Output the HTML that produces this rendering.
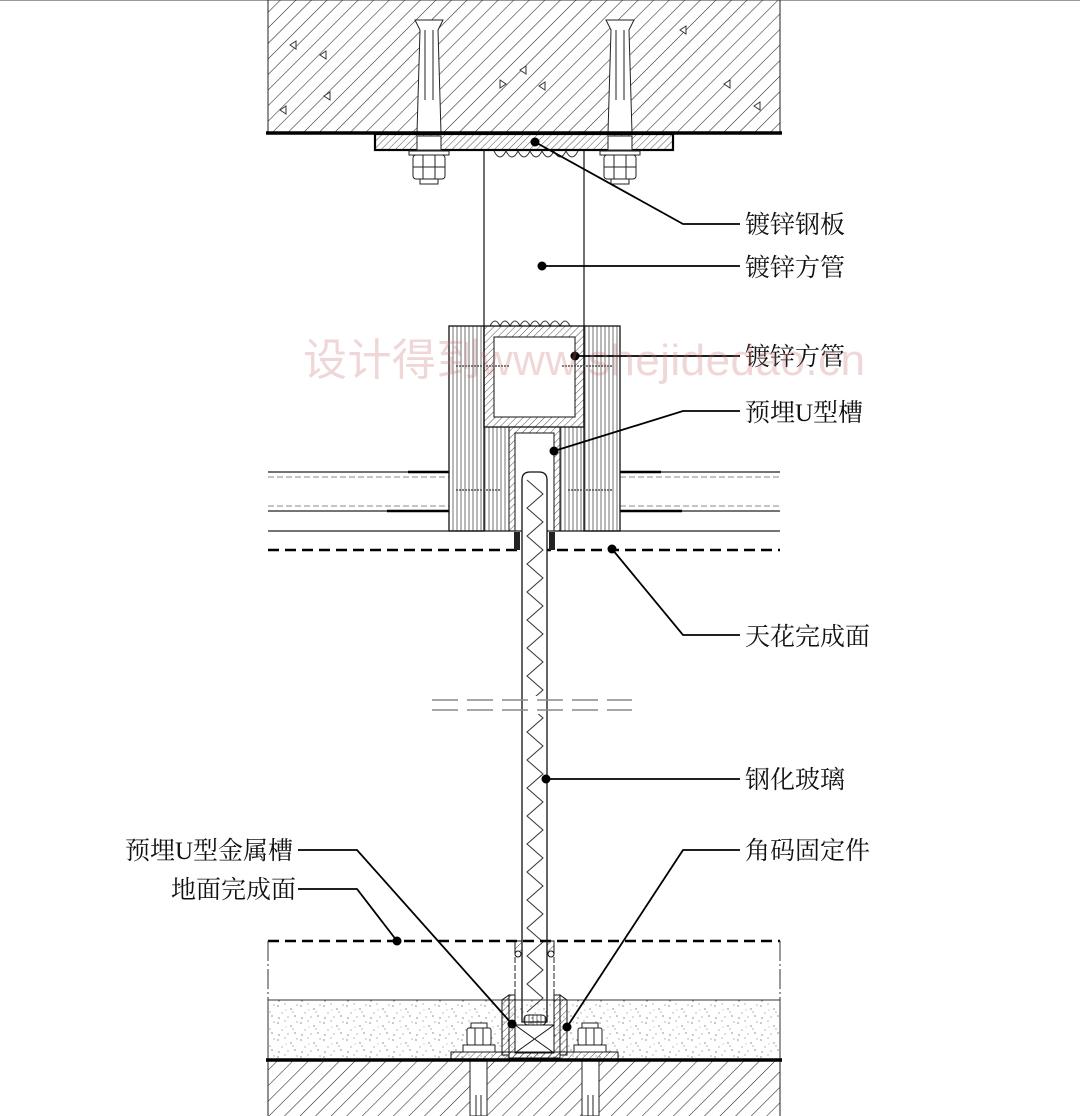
<!DOCTYPE html>
<html><head><meta charset="utf-8"><style>
html,body{margin:0;padding:0;background:#fff;}
svg{display:block;}
text{font-family:"Liberation Serif","Noto Serif CJK SC","Noto Sans CJK SC",serif;font-size:25px;fill:#111;}
</style></head><body>
<svg width="1080" height="1116" viewBox="0 0 1080 1116" xmlns="http://www.w3.org/2000/svg">
<defs>
<pattern id="conc" width="11" height="11" patternUnits="userSpaceOnUse" patternTransform="rotate(45)">
<line x1="0" y1="0" x2="0" y2="11" stroke="#222" stroke-width="1.1"/>
</pattern>
<pattern id="steel" width="5" height="5" patternUnits="userSpaceOnUse" patternTransform="rotate(45)">
<line x1="0" y1="0" x2="0" y2="5" stroke="#222" stroke-width="0.8"/>
</pattern>
<pattern id="wood" width="4" height="10" patternUnits="userSpaceOnUse">
<line x1="1" y1="0" x2="1" y2="10" stroke="#333" stroke-width="0.7"/>
</pattern>
<pattern id="sand" width="23" height="17" patternUnits="userSpaceOnUse">
<circle cx="2" cy="3" r="0.6" fill="#444"/><circle cx="9" cy="1" r="0.5" fill="#444"/><circle cx="15" cy="6" r="0.6" fill="#444"/><circle cx="6" cy="10" r="0.5" fill="#444"/><circle cx="19" cy="13" r="0.6" fill="#444"/><circle cx="12" cy="14" r="0.5" fill="#444"/><circle cx="21" cy="2" r="0.5" fill="#444"/><circle cx="3" cy="15" r="0.6" fill="#444"/><circle cx="17" cy="9" r="0.5" fill="#444"/><circle cx="10" cy="7" r="0.4" fill="#444"/>
</pattern>
</defs>
<line x1="0" y1="0.5" x2="1080" y2="0.5" stroke="#999" stroke-width="1"/>
<rect x="268" y="0" width="512" height="133" fill="url(#conc)"/>
<line x1="268" y1="0" x2="268" y2="133" stroke="#222"/>
<line x1="780" y1="0" x2="780" y2="133" stroke="#222"/>
<g fill="#fff" stroke="#333" stroke-width="1">
<path d="M290 45 l6 -4 l0 8z M320 55 l6 -4 l0 8z M330 100 l-6 -4 l6 -4z M520 70 l6 -4 l0 8z M545 90 l-6 -4 l6 -4z M500 80 l6 4 l-6 4z M680 30 l6 -4 l0 8z M730 80 l-6 4 l6 4z M760 110 l-6 -4 l6 -4z M280 110 l6 -4 l0 8z"/>
</g>
<g fill="#fff" stroke="#222" stroke-width="1">
<path d="M415 20 L443 20 L438 30 L441 133 L417 133 L420 30 Z"/>
<line x1="425" y1="30" x2="425" y2="100"/><line x1="433" y1="30" x2="433" y2="100"/>
<path d="M606 20 L634 20 L629 30 L632 133 L608 133 L611 30 Z"/>
<line x1="616" y1="30" x2="616" y2="100"/><line x1="624" y1="30" x2="624" y2="100"/>
</g>
<line x1="266" y1="133" x2="782" y2="133" stroke="#000" stroke-width="3.5"/>
<rect x="375" y="134" width="298" height="16" fill="url(#steel)" stroke="#000" stroke-width="2.2"/>
<rect x="417" y="136" width="24" height="14" fill="#fff" stroke="#222"/>
<rect x="608" y="136" width="24" height="14" fill="#fff" stroke="#222"/>
<g fill="#fff" stroke="#222" stroke-width="1">
<rect x="409" y="151" width="40" height="4"/>
<rect x="413" y="155" width="32" height="24" rx="3"/><line x1="413" y1="167" x2="445" y2="167"/><line x1="423" y1="155" x2="423" y2="179"/><line x1="435" y1="155" x2="435" y2="179"/>
<rect x="420" y="179" width="18" height="5"/>
<rect x="600" y="151" width="40" height="4"/>
<rect x="604" y="155" width="32" height="24" rx="3"/><line x1="604" y1="167" x2="636" y2="167"/><line x1="614" y1="155" x2="614" y2="179"/><line x1="626" y1="155" x2="626" y2="179"/>
<rect x="611" y="179" width="18" height="5"/>
</g>
<path d="M494 151 q6 12 12 0 q6 12 12 0 q6 12 12 0 q6 12 12 0 q6 12 12 0 q6 12 12 0 q6 12 12 0" fill="none" stroke="#333"/>
<line x1="484" y1="150" x2="484" y2="326" stroke="#111" stroke-width="1.2"/>
<line x1="584" y1="150" x2="584" y2="326" stroke="#111" stroke-width="1.2"/>
<path d="M490 326 q5 -10 10 0 q5 -10 10 0 q5 -10 10 0 q5 -10 10 0 q5 -10 10 0 q5 -10 10 0 q5 -10 10 0 q5 -10 10 0" fill="none" stroke="#333"/>
<g stroke="#222" stroke-width="1.2">
<line x1="268" y1="472" x2="449" y2="472"/><line x1="620" y1="472" x2="780" y2="472"/>
<line x1="268" y1="511" x2="449" y2="511"/><line x1="620" y1="511" x2="780" y2="511"/>
<line x1="268" y1="531" x2="780" y2="531"/>
</g>
<g stroke="#000" stroke-width="2.5">
<line x1="408" y1="472" x2="449" y2="472"/><line x1="620" y1="472" x2="661" y2="472"/>
<line x1="387" y1="511" x2="449" y2="511"/><line x1="620" y1="511" x2="682" y2="511"/>
</g>
<g stroke="#888" stroke-width="1" stroke-dasharray="6,3">
<line x1="268" y1="477" x2="449" y2="477"/><line x1="620" y1="477" x2="780" y2="477"/>
<line x1="268" y1="506" x2="449" y2="506"/><line x1="620" y1="506" x2="780" y2="506"/>
</g>
<line x1="268" y1="550" x2="780" y2="550" stroke="#000" stroke-width="2.5" stroke-dasharray="11,6"/>
<rect x="449" y="326" width="35" height="205" fill="url(#wood)" stroke="#111" stroke-width="1.3"/>
<rect x="584" y="326" width="36" height="205" fill="url(#wood)" stroke="#111" stroke-width="1.3"/>
<rect x="484" y="427" width="25" height="104" fill="url(#wood)" stroke="#111" stroke-width="1"/>
<rect x="560" y="427" width="24" height="104" fill="url(#wood)" stroke="#111" stroke-width="1"/>
<rect x="484" y="326" width="100" height="101" fill="url(#steel)" stroke="#111" stroke-width="1.3"/>
<rect x="494" y="337" width="81" height="80" fill="#fff" stroke="#111" stroke-width="1"/>
<path d="M509 427 L560 427 L560 531 L554 531 L554 433 L515 433 L515 531 L509 531 Z" fill="url(#steel)" stroke="#111"/>
<g stroke="#555" stroke-width="1.5" stroke-dasharray="2,1">
<line x1="456" y1="366" x2="510" y2="366"/><line x1="562" y1="366" x2="612" y2="366"/>
<line x1="456" y1="490" x2="500" y2="490"/><line x1="568" y1="490" x2="612" y2="490"/>
</g>
<g fill="#222"><rect x="514" y="532" width="6" height="18"/><rect x="549" y="532" width="6" height="18"/></g>
<path d="M522 1022 L522 480 Q522 472 530 472 L539 472 Q547 472 547 480 L547 1022 Z" fill="#fff" stroke="#111" stroke-width="1.3"/>
<polyline fill="none" stroke="#333" stroke-width="1" points="527,480 543,494 527,508 543,522 527,536 543,550 527,564 543,578 527,592 543,606 527,620 543,634 527,648 543,662 527,676 543,690 527,704 543,718 527,732 543,746 527,760 543,774 527,788 543,802 527,816 543,830 527,844 543,858 527,872 543,886 527,900 543,914 527,928 543,942 527,956 543,970 527,984 543,998 527,1012"/>
<rect x="430" y="696" width="205" height="18" fill="#fff"/>
<line x1="522" y1="696" x2="522" y2="714" stroke="#111" stroke-width="1.3"/><line x1="547" y1="696" x2="547" y2="714" stroke="#111" stroke-width="1.3"/>
<g stroke="#888" stroke-width="1.5" stroke-dasharray="26,9">
<line x1="432" y1="700" x2="632" y2="700"/><line x1="432" y1="710" x2="632" y2="710"/>
</g>
<line x1="268" y1="941" x2="780" y2="941" stroke="#000" stroke-width="2.5" stroke-dasharray="11,6"/>
<line x1="268" y1="941" x2="268" y2="1000" stroke="#333" stroke-dasharray="20,3,2,3"/>
<line x1="780" y1="941" x2="780" y2="1000" stroke="#333" stroke-dasharray="20,3,2,3"/>
<rect x="268" y="1000" width="512" height="60" fill="url(#sand)" stroke="#333"/>
<rect x="268" y="1060" width="512" height="56" fill="url(#conc)"/>
<line x1="268" y1="1060" x2="268" y2="1116" stroke="#222"/><line x1="780" y1="1060" x2="780" y2="1116" stroke="#222"/>
<path d="M502 1055 L502 1000 L509 995 L509 1055 Z M567 1055 L567 1000 L560 995 L560 1055 Z" fill="url(#steel)" stroke="#111"/>
<path d="M509 995 L515 995 L515 1053 L554 1053 L554 995 L560 995 L560 1058 L509 1058 Z" fill="url(#steel)" stroke="#111"/>
<rect x="515" y="1025" width="39" height="28" fill="#fff" stroke="#111"/>
<path d="M515 1025 L554 1053 M554 1025 L515 1053" stroke="#111"/>
<rect x="524" y="1015" width="22" height="10" rx="4" fill="url(#wood)" stroke="#111"/>
<g fill="url(#steel)" stroke="#111"><rect x="515" y="941" width="7" height="12"/><rect x="547" y="941" width="7" height="12"/></g>
<circle cx="518" cy="954" r="3" fill="#fff" stroke="#111"/><circle cx="551" cy="954" r="3" fill="#fff" stroke="#111"/>
<line x1="515" y1="957" x2="515" y2="995" stroke="#222" stroke-dasharray="6,2"/><line x1="554" y1="957" x2="554" y2="995" stroke="#222" stroke-dasharray="6,2"/>
<rect x="451" y="1052" width="167" height="8" fill="url(#steel)" stroke="#111"/>
<g fill="#fff" stroke="#222">
<rect x="470" y="1060" width="17" height="56"/><line x1="476" y1="1095" x2="476" y2="1116"/><line x1="481" y1="1095" x2="481" y2="1116"/>
<rect x="582" y="1060" width="17" height="56"/><line x1="588" y1="1095" x2="588" y2="1116"/><line x1="593" y1="1095" x2="593" y2="1116"/>
<rect x="463" y="1045" width="32" height="7"/><rect x="467" y="1028" width="24" height="17" rx="2"/><line x1="475" y1="1028" x2="475" y2="1045"/><line x1="483" y1="1028" x2="483" y2="1045"/><rect x="471" y="1023" width="16" height="5"/>
<rect x="574" y="1045" width="32" height="7"/><rect x="578" y="1028" width="24" height="17" rx="2"/><line x1="586" y1="1028" x2="586" y2="1045"/><line x1="594" y1="1028" x2="594" y2="1045"/><rect x="582" y="1023" width="16" height="5"/>
</g>
<line x1="266" y1="1060" x2="782" y2="1060" stroke="#000" stroke-width="3.5"/>
<g fill="none" stroke="#000" stroke-width="1.8">
<polyline points="535,142 683,224 740,224"/>
<polyline points="542,266 740,266"/>
<polyline points="575,356 740,356"/>
<polyline points="554,451 683,411 740,411"/>
<polyline points="612,549 683,635 740,635"/>
<polyline points="546,779 740,779"/>
<polyline points="740,850 683,850 567,1027"/>
<polyline points="298,850 357,850 512,1024"/>
<polyline points="298,889 357,889 397,941"/>
</g>
<g fill="#000">
<circle cx="535" cy="142" r="4.5"/><circle cx="542" cy="266" r="4.5"/><circle cx="575" cy="356" r="4.5"/><circle cx="554" cy="451" r="4.5"/><circle cx="612" cy="549" r="4.5"/><circle cx="546" cy="779" r="4.5"/><circle cx="567" cy="1027" r="4.5"/><circle cx="512" cy="1024" r="4.5"/><circle cx="397" cy="941" r="4.5"/>
</g>
<text x="745" y="233">镀锌钢板</text>
<text x="745" y="276">镀锌方管</text>
<text x="745" y="365">镀锌方管</text>
<text x="745" y="421">预埋U型槽</text>
<text x="745" y="645">天花完成面</text>
<text x="745" y="788">钢化玻璃</text>
<text x="745" y="859">角码固定件</text>
<text x="293" y="859" text-anchor="end">预埋U型金属槽</text>
<text x="296" y="898" text-anchor="end">地面完成面</text>
<text x="303" y="375" textLength="562" style="font-family:'Liberation Sans','Noto Sans CJK SC',sans-serif;font-size:44px;fill:rgba(200,110,110,0.28)">设计得到www.shejidedao.cn</text>
</svg>
</body></html>
